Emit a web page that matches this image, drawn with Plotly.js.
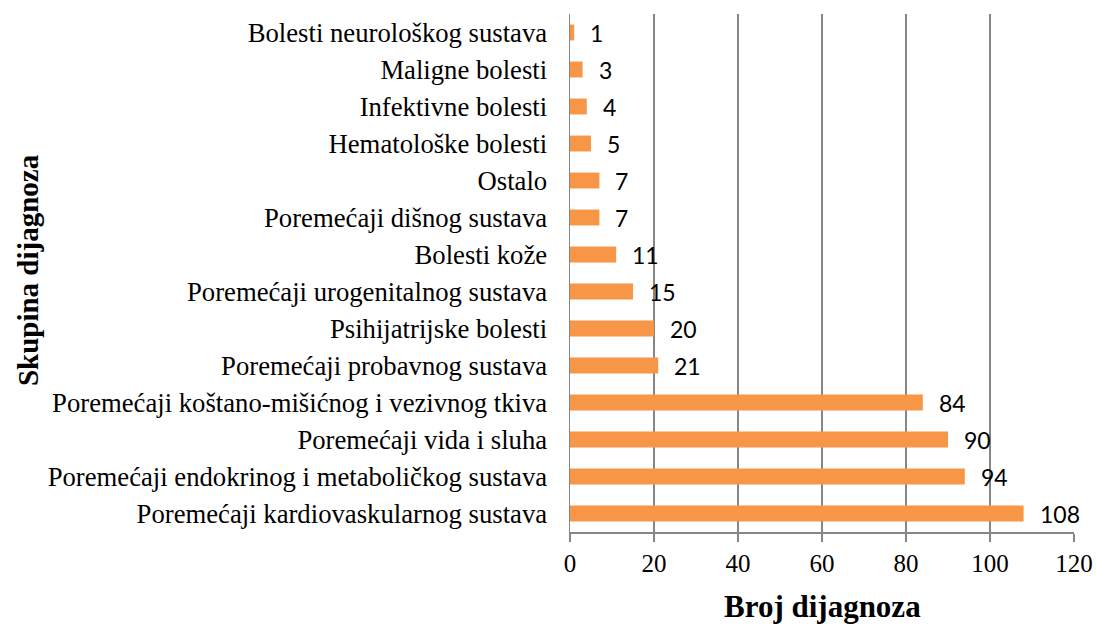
<!DOCTYPE html>
<html><head><meta charset="utf-8">
<script src="https://cdn.plot.ly/plotly-3.0.1.min.js"></script>
<style>body{margin:0;background:#fff}#c{width:1096px;height:625px}</style>
</head><body><div id="c"></div>
<script>
const categories = [
  "Poremećaji kardiovaskularnog sustava",
  "Poremećaji endokrinog i metaboličkog sustava",
  "Poremećaji vida i sluha",
  "Poremećaji koštano-mišićnog i vezivnog tkiva",
  "Poremećaji probavnog sustava",
  "Psihijatrijske bolesti",
  "Poremećaji urogenitalnog sustava",
  "Bolesti kože",
  "Poremećaji dišnog sustava",
  "Ostalo",
  "Hematološke bolesti",
  "Infektivne bolesti",
  "Maligne bolesti",
  "Bolesti neurološkog sustava"
];
const values = [108, 94, 90, 84, 21, 20, 15, 11, 7, 7, 5, 4, 3, 1];
const xTicks = [0, 20, 40, 60, 80, 100, 120];

const serif = "Liberation Serif, Times New Roman, serif";
const trace = {
  type: "bar", orientation: "h",
  x: values, y: categories,
  marker: {color: "#F79646"},
  width: 0.43,
  hoverinfo: "skip"
};
const annotations = values.map((v, i) => ({
  x: v, y: categories[i], xref: "x", yref: "y",
  text: String(v), showarrow: false, xanchor: "left", xshift: 14, yshift: 0,
  font: {family: "Lato, Noto Sans, sans-serif", size: 23, color: "#000"}
}));
annotations.push({
  xref: "paper", yref: "paper", x: 0.5, y: -0.143, xanchor: "center", yanchor: "middle",
  text: "<b>Broj dijagnoza</b>", showarrow: false,
  font: {family: serif, size: 31, color: "#000"}
});
annotations.push({
  xref: "paper", yref: "paper", x: -1.075, y: 0.506, xanchor: "center", yanchor: "middle",
  text: "<b>Skupina dijagnoza</b>", showarrow: false, textangle: -90,
  font: {family: serif, size: 29, color: "#000"}
});
const layout = {
  width: 1096, height: 625,
  margin: {l: 570, r: 22, t: 14, b: 93},
  paper_bgcolor: "#fff", plot_bgcolor: "#fff",
  showlegend: false,
  bargap: 0.57,
  xaxis: {
    range: [0, 120], tickvals: xTicks, ticktext: xTicks.map(String),
    showgrid: true, gridcolor: "#868686", gridwidth: 1.5,
    zeroline: false, showline: true, linecolor: "#868686", linewidth: 1.5,
    ticks: "outside", ticklen: 8, tickcolor: "#868686", tickwidth: 1.5,
    tickfont: {family: serif, size: 25, color: "#000"},
    automargin: false,
    fixedrange: true
  },
  yaxis: {
    showline: true, linecolor: "#868686", linewidth: 1.5,
    ticks: "", showgrid: false,
    tickfont: {family: serif, size: 26.7, color: "#000"},
    ticklabelstandoff: 16,
    automargin: false,
    fixedrange: true
  },
  annotations: annotations
};
Plotly.newPlot("c", [trace], layout, {displayModeBar: false, staticPlot: true});
</script>
</body></html>
